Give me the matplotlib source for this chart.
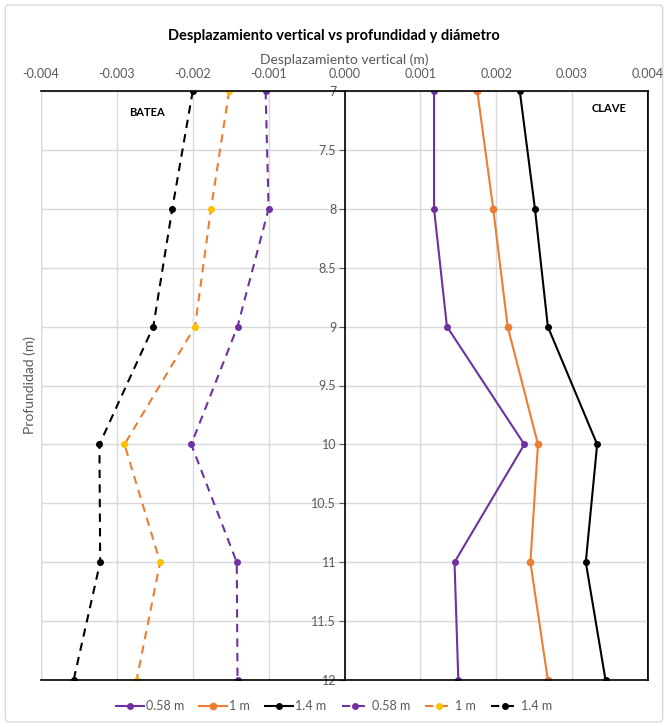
import numpy as np
import matplotlib.pyplot as plt
from matplotlib.patches import FancyBboxPatch

plt.rcParams['font.family'] = ['Lato', 'DejaVu Sans']

# profundidad (m)
depth = [7, 8, 9, 10, 11, 12]

# CLAVE (solid lines)
clave_058 = [0.00118, 0.00118, 0.00135, 0.00237, 0.00145, 0.00150]
clave_1 = [0.00175, 0.00196, 0.00215, 0.00255, 0.00245, 0.00268]
clave_14 = [0.00231, 0.00251, 0.00268, 0.00333, 0.00318, 0.00344]

# BATEA (dashed lines)
batea_058 = [-0.00104, -0.00100, -0.00141, -0.00202, -0.00142, -0.00141]
batea_1 = [-0.00152, -0.00176, -0.00197, -0.00290, -0.00243, -0.00274]
batea_14 = [-0.00200, -0.00227, -0.00252, -0.00323, -0.00322, -0.00357]

labels = ['0.58 m', '1 m', '1.4 m', '0.58 m', '1 m', '1.4 m']
xticks = [-0.004, -0.003, -0.002, -0.001, 0.0, 0.001, 0.002, 0.003, 0.004]
yticks = [7, 7.5, 8, 8.5, 9, 9.5, 10, 10.5, 11, 11.5, 12]

purple = '#7030A0'
orange = '#ED7D31'
gold = '#FFC000'
gray = '#595959'

fig = plt.figure(figsize=(6.68, 7.27), dpi=100)
fig.patches.append(FancyBboxPatch((0.008, 0.007), 0.984, 0.986, boxstyle='round,pad=0,rounding_size=0.005',
                                  transform=fig.transFigure, fc='none', ec='#D9D9D9', lw=1, zorder=-1))
ax = fig.add_axes([41 / 668, 1 - 680 / 727, 607 / 668, 589 / 727])

dash = (0, (4, 3))
ax.plot(clave_058, depth, color=purple, lw=1.5, marker='o', ms=4, label=labels[0])
ax.plot(clave_1, depth, color=orange, lw=1.5, marker='o', ms=4.5, label=labels[1])
ax.plot(clave_14, depth, color='black', lw=1.5, marker='o', ms=4, label=labels[2])
ax.plot(batea_058, depth, color=purple, lw=1.5, ls=dash, marker='o', ms=4,
        mfc=purple, mec=purple, label=labels[3])
ax.plot(batea_1, depth, color=orange, lw=1.5, ls=dash, marker='o', ms=4,
        mfc=gold, mec=gold, label=labels[4])
ax.plot(batea_14, depth, color='black', lw=1.5, ls=dash, marker='o', ms=4, label=labels[5])

ax.set_xlim(-0.004, 0.004)
ax.set_ylim(12, 7)
ax.set_xticks(xticks)
ax.set_xticklabels([f'{v:.3f}' for v in xticks])
ax.set_yticks(yticks)
ax.set_yticklabels([f'{v:g}' for v in yticks])
ax.xaxis.tick_top()
ax.xaxis.set_label_position('top')
ax.tick_params(axis='x', length=0, pad=8, labelsize=9, labelcolor=gray)
ax.tick_params(axis='y', length=4, pad=2, labelsize=9, labelcolor=gray, color=gray)
ax.grid(True, color='#D9D9D9', lw=1)
ax.set_axisbelow(True)

ax.spines['left'].set_position(('data', 0))
for s in ax.spines.values():
    s.set_color('black')
    s.set_linewidth(1.2)
ax.axvline(-0.004, color='#404040', lw=1.5, zorder=0.5)
ax.axvline(0.004, color='black', lw=1.2, zorder=0.5)

ax.set_xlabel('Desplazamiento vertical (m)', fontsize=10, color=gray, labelpad=3)
fig.text(30 / 668, 1 - 385 / 727, 'Profundidad (m)', rotation=90, ha='center', va='center',
         fontsize=10, color=gray)
fig.text(0.5, 1 - 36 / 727, 'Desplazamiento vertical vs profundidad y diámetro',
         ha='center', va='center', fontsize=10.5, fontweight='bold')

ax.text(147 / 668, 1 - 112 / 727, 'BATEA', transform=fig.transFigure, ha='center', va='center',
        fontsize=8, fontweight='bold')
ax.text(609 / 668, 1 - 109 / 727, 'CLAVE', transform=fig.transFigure, ha='center', va='center',
        fontsize=8, fontweight='bold')

leg = fig.legend(loc='center', bbox_to_anchor=(0.5, 1 - 706 / 727), ncol=6, frameon=False,
                 fontsize=9, handlelength=2.2, handletextpad=0.2, columnspacing=1.2)
for t in leg.get_texts():
    t.set_color(gray)

fig.savefig('out.png', dpi=100)
